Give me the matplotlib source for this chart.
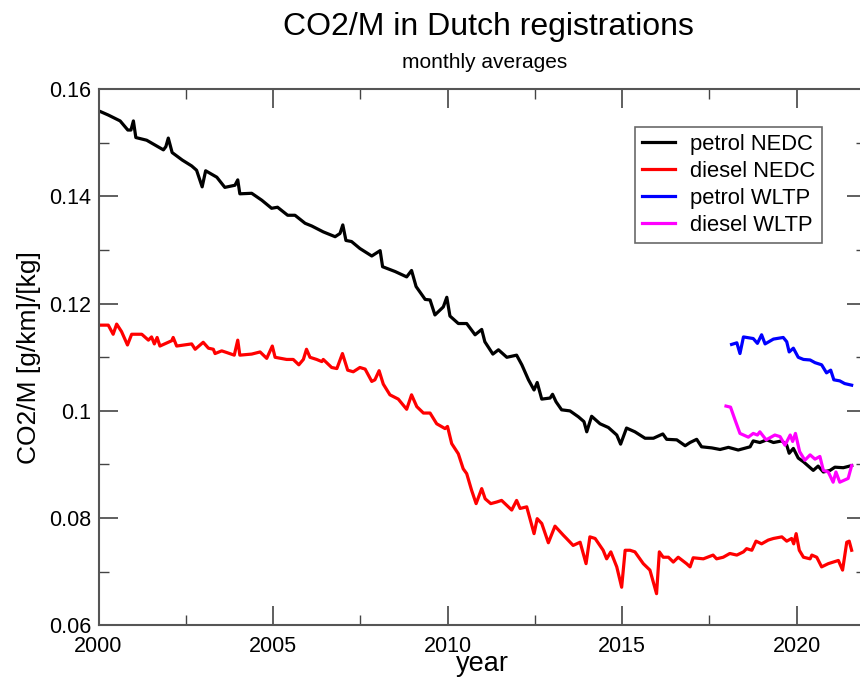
import matplotlib
matplotlib.use("Agg")
import matplotlib.pyplot as plt
from matplotlib.ticker import MultipleLocator

plt.rcParams['font.family'] = ['Liberation Sans', 'DejaVu Sans']

# petrol NEDC (year, CO2/M)
petrol_nedc_year = [2000.07, 2000.28, 2000.62, 2000.84, 2000.93, 2001.0, 2001.07, 2001.38, 2001.62, 2001.86,
                    2001.93, 2002.0, 2002.11, 2002.40, 2002.67, 2002.81, 2002.97, 2003.07, 2003.39, 2003.62,
                    2003.91, 2003.99, 2004.05, 2004.39, 2004.68, 2004.96, 2005.13, 2005.42, 2005.63, 2005.92,
                    2006.11, 2006.44, 2006.78, 2006.92, 2007.0, 2007.09, 2007.25, 2007.49, 2007.83, 2008.07,
                    2008.14, 2008.50, 2008.83, 2008.97, 2009.10, 2009.36, 2009.50, 2009.64, 2009.88, 2009.98,
                    2010.07, 2010.31, 2010.55, 2010.79, 2010.98, 2011.07, 2011.30, 2011.46, 2011.70, 2011.98,
                    2012.13, 2012.32, 2012.48, 2012.57, 2012.70, 2012.94, 2013.01, 2013.11, 2013.27, 2013.51,
                    2013.75, 2013.91, 2013.99, 2014.13, 2014.37, 2014.61, 2014.85, 2014.96, 2015.13, 2015.37,
                    2015.66, 2015.90, 2016.17, 2016.28, 2016.57, 2016.81, 2016.95, 2017.14, 2017.28, 2017.57,
                    2017.81, 2018.05, 2018.33, 2018.67, 2018.76, 2018.95, 2019.15, 2019.34, 2019.58, 2019.72,
                    2019.79, 2019.91, 2020.05, 2020.20, 2020.48, 2020.62, 2020.77, 2020.96, 2021.10, 2021.34,
                    2021.58]
petrol_nedc = [0.1558, 0.1552, 0.1541, 0.1524, 0.1524, 0.1541, 0.1510, 0.1505, 0.1496, 0.1487,
               0.1493, 0.1509, 0.1482, 0.1468, 0.1457, 0.1449, 0.1418, 0.1448, 0.1436, 0.1417,
               0.1421, 0.1431, 0.1405, 0.1406, 0.1393, 0.1378, 0.1380, 0.1365, 0.1365, 0.1350,
               0.1345, 0.1334, 0.1325, 0.1331, 0.1347, 0.1318, 0.1316, 0.1303, 0.1289, 0.1299,
               0.1269, 0.1260, 0.1250, 0.1262, 0.1232, 0.1208, 0.1207, 0.1179, 0.1194, 0.1212,
               0.1177, 0.1163, 0.1163, 0.1142, 0.1152, 0.1129, 0.1106, 0.1114, 0.1100, 0.1104,
               0.1086, 0.1058, 0.1039, 0.1053, 0.1022, 0.1024, 0.1031, 0.1017, 0.1002, 0.1000,
               0.0989, 0.0980, 0.0961, 0.0990, 0.0976, 0.0969, 0.0955, 0.0938, 0.0968, 0.0961,
               0.0949, 0.0949, 0.0957, 0.0947, 0.0946, 0.0935, 0.0941, 0.0947, 0.0933, 0.0931,
               0.0928, 0.0932, 0.0927, 0.0933, 0.0944, 0.0941, 0.0946, 0.0941, 0.0944, 0.0936,
               0.0921, 0.0930, 0.0912, 0.0905, 0.0889, 0.0897, 0.0886, 0.0889, 0.0895, 0.0894,
               0.0898]

# diesel NEDC
diesel_nedc_year = [2000.07, 2000.28, 2000.42, 2000.52, 2000.66, 2000.83, 2000.95, 2001.24, 2001.43, 2001.52,
                    2001.60, 2001.68, 2001.76, 2002.10, 2002.14, 2002.24, 2002.67, 2002.77, 2003.0, 2003.15,
                    2003.29, 2003.34, 2003.53, 2003.67, 2003.89, 2003.99, 2004.05, 2004.39, 2004.63, 2004.82,
                    2004.98, 2005.06, 2005.39, 2005.58, 2005.74, 2005.87, 2005.96, 2006.06, 2006.25, 2006.40,
                    2006.44, 2006.68, 2006.83, 2006.99, 2007.14, 2007.30, 2007.49, 2007.64, 2007.83, 2007.92,
                    2008.04, 2008.16, 2008.35, 2008.59, 2008.83, 2008.97, 2009.12, 2009.31, 2009.50, 2009.69,
                    2009.93, 2010.0, 2010.12, 2010.31, 2010.45, 2010.55, 2010.69, 2010.82, 2010.98, 2011.08,
                    2011.24, 2011.41, 2011.55, 2011.84, 2011.98, 2012.08, 2012.27, 2012.48, 2012.57, 2012.70,
                    2012.89, 2013.08, 2013.32, 2013.41, 2013.60, 2013.80, 2013.97, 2014.08, 2014.23, 2014.46,
                    2014.56, 2014.68, 2014.85, 2014.99, 2015.09, 2015.23, 2015.37, 2015.61, 2015.80, 2015.99,
                    2016.07, 2016.18, 2016.33, 2016.47, 2016.61, 2016.85, 2016.95, 2017.04, 2017.33, 2017.61,
                    2017.71, 2017.90, 2018.09, 2018.29, 2018.48, 2018.57, 2018.72, 2018.84, 2019.00, 2019.19,
                    2019.34, 2019.58, 2019.72, 2019.86, 2019.92, 2019.99, 2020.08, 2020.20, 2020.39, 2020.44,
                    2020.58, 2020.72, 2020.91, 2021.05, 2021.20, 2021.32, 2021.44, 2021.51, 2021.58]
diesel_nedc = [0.1160, 0.1160, 0.1143, 0.1162, 0.1148, 0.1123, 0.1143, 0.1143, 0.1132, 0.1138,
               0.1125, 0.1137, 0.1121, 0.1131, 0.1137, 0.1121, 0.1125, 0.1115, 0.1128, 0.1117,
               0.1115, 0.1107, 0.1112, 0.1109, 0.1104, 0.1132, 0.1104, 0.1106, 0.1110, 0.1098,
               0.1121, 0.1100, 0.1096, 0.1096, 0.1086, 0.1096, 0.1115, 0.1100, 0.1096, 0.1092,
               0.1096, 0.1081, 0.1079, 0.1107, 0.1076, 0.1073, 0.1081, 0.1078, 0.1055, 0.1058,
               0.1075, 0.1050, 0.1030, 0.1022, 0.1003, 0.1030, 0.1008, 0.0996, 0.0996, 0.0976,
               0.0967, 0.0971, 0.0939, 0.0920, 0.0892, 0.0883, 0.0852, 0.0827, 0.0855, 0.0836,
               0.0827, 0.0830, 0.0833, 0.0815, 0.0833, 0.0818, 0.0821, 0.0771, 0.0799, 0.0790,
               0.0754, 0.0785, 0.0768, 0.0762, 0.0749, 0.0755, 0.0715, 0.0765, 0.0762, 0.0740,
               0.0724, 0.0737, 0.0709, 0.0671, 0.0740, 0.0740, 0.0737, 0.0715, 0.0703, 0.0659,
               0.0737, 0.0727, 0.0727, 0.0718, 0.0727, 0.0715, 0.0709, 0.0726, 0.0724, 0.0731,
               0.0724, 0.0727, 0.0734, 0.0731, 0.0737, 0.0743, 0.0740, 0.0757, 0.0752, 0.0759,
               0.0762, 0.0765, 0.0757, 0.0762, 0.0752, 0.0771, 0.0740, 0.0727, 0.0724, 0.0731,
               0.0727, 0.0709, 0.0715, 0.0718, 0.0721, 0.0703, 0.0755, 0.0757, 0.0740]

# petrol WLTP
petrol_wltp_year = [2018.14, 2018.29, 2018.38, 2018.48, 2018.76, 2018.88, 2019.0, 2019.10, 2019.34, 2019.62,
                    2019.72, 2019.79, 2019.91, 2020.05, 2020.20, 2020.39, 2020.53, 2020.72, 2020.86, 2020.98,
                    2021.07, 2021.24, 2021.38, 2021.58]
petrol_wltp = [0.1124, 0.1127, 0.1107, 0.1138, 0.1135, 0.1126, 0.1142, 0.1125, 0.1134, 0.1137,
               0.1129, 0.1110, 0.1117, 0.1100, 0.1096, 0.1095, 0.1090, 0.1086, 0.1071, 0.1076,
               0.1058, 0.1056, 0.1051, 0.1048]

# diesel WLTP
diesel_wltp_year = [2017.98, 2018.11, 2018.24, 2018.38, 2018.62, 2018.76, 2018.88, 2018.95, 2019.13, 2019.38,
                    2019.53, 2019.67, 2019.82, 2019.89, 2019.97, 2020.09, 2020.24, 2020.39, 2020.53, 2020.67,
                    2020.77, 2020.91, 2021.05, 2021.13, 2021.24, 2021.48, 2021.58]
diesel_wltp = [0.1009, 0.1007, 0.0983, 0.0958, 0.0951, 0.0958, 0.0955, 0.0961, 0.0946, 0.0955,
               0.0952, 0.0936, 0.0955, 0.0943, 0.0958, 0.0924, 0.0908, 0.0918, 0.0910, 0.0915,
               0.0889, 0.0886, 0.0867, 0.0886, 0.0867, 0.0874, 0.0898]

fig = plt.figure(figsize=(8.6, 6.77), dpi=100)
ax = fig.add_axes([98.5 / 860, 1 - 625.3 / 677, 767.8 / 860, 536 / 677])

lw = 2.3
ax.plot(petrol_nedc_year, petrol_nedc, color='black', lw=lw, label='petrol NEDC')
ax.plot(diesel_nedc_year, diesel_nedc, color='red', lw=lw, label='diesel NEDC')
ax.plot(petrol_wltp_year, petrol_wltp, color='blue', lw=lw, label='petrol WLTP')
ax.plot(diesel_wltp_year, diesel_wltp, color='magenta', lw=lw, label='diesel WLTP')

ax.set_xlim(2000, 2022)
ax.set_ylim(0.06, 0.16)
ax.xaxis.set_major_locator(MultipleLocator(5))
ax.xaxis.set_minor_locator(MultipleLocator(2.5))
ax.yaxis.set_minor_locator(MultipleLocator(0.01))
ax.set_yticks([0.06, 0.08, 0.1, 0.12, 0.14, 0.16])
ax.set_yticklabels(['0.06', '0.08', '0.1', '0.12', '0.14', '0.16'])

ax.tick_params(which='both', direction='in', top=True, right=True, labelsize=15.5, color='#444444')
ax.tick_params(which='major', length=14, width=1.2)
ax.tick_params(axis='x', which='major', pad=8)
ax.tick_params(axis='y', which='major', pad=5)
ax.tick_params(which='minor', length=7, width=1.0)
for s in ax.spines.values():
    s.set_color('#555555')
    s.set_linewidth(1.5)

ax.set_xlabel('year', fontsize=19.5, labelpad=-4.5)
ax.set_ylabel('CO2/M [g/km]/[kg]', fontsize=19, labelpad=6)

fig.text(488 / 860, 1 - 27 / 677, 'CO2/M in Dutch registrations', fontsize=23, ha='center', va='center')
fig.text(485 / 860, 1 - 63 / 677, 'monthly averages', fontsize=15, ha='center', va='center')

leg = ax.legend(loc='upper left', bbox_to_anchor=(635 / 860, 1 - 127 / 677), bbox_transform=fig.transFigure,
                fontsize=15.8, frameon=True, fancybox=False, handlelength=1.5, handletextpad=0.7,
                labelspacing=0.28, borderpad=0.3, borderaxespad=0)
leg.get_frame().set_edgecolor('#444444')
leg.get_frame().set_linewidth(1.2)

fig.savefig('out.png', dpi=100)
